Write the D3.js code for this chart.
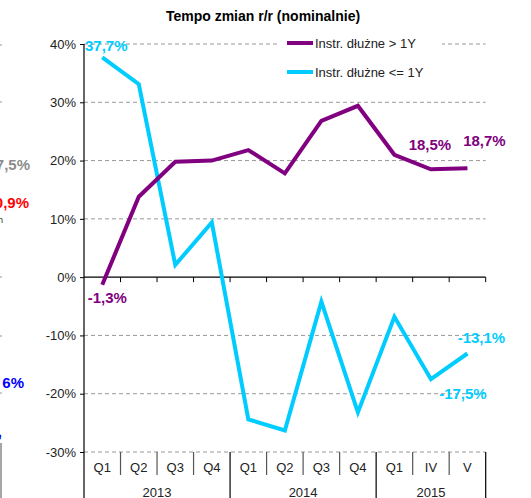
<!DOCTYPE html>
<html>
<head>
<meta charset="utf-8">
<script src="https://cdn.jsdelivr.net/npm/d3@7"></script>
<style>
  body { margin: 0; background: #fff; }
  svg { font-family: "Liberation Sans", Arial, sans-serif; }
</style>
</head>
<body>
<svg id="chart" width="531" height="498"></svg>
<script>
// data
var categories = ["Q1", "Q2", "Q3", "Q4", "Q1", "Q2", "Q3", "Q4", "Q1", "IV", "V"];
var yearLabels = ["2013", "2014", "2015"];
var yearSpans = [4, 4, 3];
var longDebt = [-1.3, 13.8, 19.8, 20.0, 21.8, 17.8, 26.8, 29.4, 21.0, 18.5, 18.7];
var shortDebt = [37.7, 33.1, 2.1, 9.4, -24.4, -26.3, -4.2, -23.2, -6.8, -17.5, -13.1];
var yTicks = [-30, -20, -10, 0, 10, 20, 30, 40];
var seriesNames = ["Instr. dłużne > 1Y", "Instr. dłużne <= 1Y"];

var purple = "#800080", cyan = "#00CCFF";

var svg = d3.select("svg#chart"),
    width = +svg.attr("width"),
    height = +svg.attr("height");

var plotL = 84, plotR = 485.7, plotT = 44, plotB = 452;

var x = d3.scaleBand().domain(d3.range(categories.length)).range([plotL, plotR]);
var y = d3.scaleLinear().domain([-30, 40]).range([plotB, plotT]);

function fmt(v) { return v.toFixed(1).replace(".", ",") + "%"; }

// fragments of the neighbouring chart, cut by the left edge
var frag = svg.append("g");
[45, 102, 277, 336, 393].forEach(function (yy) {
  frag.append("line").attr("x1", 0).attr("x2", 2).attr("y1", yy).attr("y2", yy)
    .attr("stroke", "#999").attr("stroke-width", 1);
});
frag.append("line").attr("x1", 1).attr("x2", 1).attr("y1", 443).attr("y2", height)
  .attr("stroke", "#888").attr("stroke-width", 1.5);
frag.append("text").attr("x", 30).attr("y", 170).attr("text-anchor", "end")
  .attr("font-size", 15).attr("font-weight", "bold").attr("fill", "#8c8c8c").text("17,5%");
frag.append("text").attr("x", 29).attr("y", 208).attr("text-anchor", "end")
  .attr("font-size", 15).attr("font-weight", "bold").attr("fill", "#ff0000").text("0,9%");
frag.append("text").attr("x", 3).attr("y", 223).attr("text-anchor", "end")
  .attr("font-size", 9).attr("fill", "#333").text("h");
frag.append("text").attr("x", 24).attr("y", 388).attr("text-anchor", "end")
  .attr("font-size", 15).attr("font-weight", "bold").attr("fill", "#0000ff").text("6%");
frag.append("text").attr("x", 2).attr("y", 437).attr("text-anchor", "end")
  .attr("font-size", 15).attr("font-weight", "bold").attr("fill", "#0000ff").text(",");

// title
svg.append("text")
  .attr("x", 263).attr("y", 21)
  .attr("text-anchor", "middle")
  .attr("font-size", 14).attr("font-weight", "bold")
  .text("Tempo zmian r/r (nominalnie)");

// gridlines
svg.append("g").selectAll("line")
  .data(yTicks.filter(function (d) { return d !== 0; }))
  .enter().append("line")
  .attr("x1", plotL).attr("x2", plotR)
  .attr("y1", function (d) { return y(d); })
  .attr("y2", function (d) { return y(d); })
  .attr("stroke", "#999").attr("stroke-width", 1)
  .attr("stroke-dasharray", "4,3");

// y axis
var yAxis = svg.append("g")
  .attr("transform", "translate(" + plotL + ",0)")
  .call(d3.axisLeft(y).tickValues(yTicks).tickSize(4).tickSizeOuter(0)
        .tickFormat(function (d) { return d + "%"; }));
yAxis.select(".domain").remove();
yAxis.selectAll("text").attr("font-size", 13).attr("fill", "#222")
  .attr("font-family", "Liberation Sans, Arial, sans-serif").attr("dx", "-1");
yAxis.selectAll(".tick line").attr("stroke", "#000");
svg.append("line").attr("x1", plotL).attr("x2", plotL).attr("y1", plotT).attr("y2", height)
  .attr("stroke", "#000").attr("stroke-width", 1.2);

// zero line with small ticks
svg.append("line").attr("x1", plotL).attr("x2", plotR).attr("y1", y(0)).attr("y2", y(0))
  .attr("stroke", "#000").attr("stroke-width", 1.2);
svg.append("g").selectAll("line")
  .data(d3.range(1, categories.length + 1))
  .enter().append("line")
  .attr("x1", function (i) { return plotL + i * x.step(); })
  .attr("x2", function (i) { return plotL + i * x.step(); })
  .attr("y1", y(0)).attr("y2", y(0) + 5)
  .attr("stroke", "#000").attr("stroke-width", 1);

// category separators and labels
var yearBounds = [];
var acc = 0;
yearSpans.forEach(function (n) { acc += n; yearBounds.push(acc); });

svg.append("g").selectAll("line")
  .data(d3.range(1, categories.length + 1))
  .enter().append("line")
  .attr("x1", function (i) { return plotL + i * x.step(); })
  .attr("x2", function (i) { return plotL + i * x.step(); })
  .attr("y1", plotB)
  .attr("y2", function (i) { return yearBounds.indexOf(i) >= 0 ? height : plotB + 23; })
  .attr("stroke", function (i) { return yearBounds.indexOf(i) >= 0 ? "#000" : "#555"; })
  .attr("stroke-width", 1.2);

svg.append("g").selectAll("text")
  .data(categories)
  .enter().append("text")
  .attr("x", function (d, i) { return x(i) + x.bandwidth() / 2; })
  .attr("y", 472)
  .attr("text-anchor", "middle")
  .attr("font-size", 13).attr("fill", "#222")
  .text(function (d) { return d; });

var start = 0;
yearLabels.forEach(function (lab, k) {
  var x0 = x(start), x1 = x(start + yearSpans[k] - 1) + x.bandwidth();
  svg.append("text")
    .attr("x", (x0 + x1) / 2).attr("y", 497)
    .attr("text-anchor", "middle")
    .attr("font-size", 13).attr("fill", "#222")
    .text(lab);
  start += yearSpans[k];
});

// lines
var line = d3.line()
  .x(function (d, i) { return x(i) + x.bandwidth() / 2; })
  .y(function (d) { return y(d); });

svg.append("path").datum(shortDebt)
  .attr("d", line).attr("fill", "none")
  .attr("stroke", cyan).attr("stroke-width", 4).attr("stroke-linejoin", "miter");
svg.append("path").datum(longDebt)
  .attr("d", line).attr("fill", "none")
  .attr("stroke", purple).attr("stroke-width", 4).attr("stroke-linejoin", "miter");

// legend
var legend = svg.append("g");
legend.append("rect").attr("x", 279).attr("y", 34).attr("width", 163).attr("height", 50).attr("fill", "#fff");
[purple, cyan].forEach(function (c, k) {
  var ly = 43 + k * 29;
  legend.append("line").attr("x1", 287).attr("x2", 313).attr("y1", ly).attr("y2", ly)
    .attr("stroke", c).attr("stroke-width", 4);
  legend.append("text").attr("x", 315).attr("y", ly).attr("dy", "0.36em")
    .attr("font-size", 13).attr("fill", "#222").text(seriesNames[k]);
});

// value labels
var labels = [
  { s: shortDebt, i: 0, dx: 4, dy: -12, c: cyan },
  { s: longDebt, i: 0, dx: 5, dy: 13, c: purple },
  { s: longDebt, i: 9, dx: -1, dy: -25, c: purple },
  { s: longDebt, i: 10, dx: 17, dy: -28, c: purple },
  { s: shortDebt, i: 10, dx: 14, dy: -16, c: cyan },
  { s: shortDebt, i: 9, dx: 32, dy: 14, c: cyan }
];
svg.append("g").selectAll("text")
  .data(labels)
  .enter().append("text")
  .attr("x", function (d) { return x(d.i) + x.bandwidth() / 2 + d.dx; })
  .attr("y", function (d) { return y(d.s[d.i]) + d.dy; })
  .attr("dy", "0.36em")
  .attr("text-anchor", "middle")
  .attr("font-size", 15).attr("font-weight", "bold")
  .attr("fill", function (d) { return d.c; })
  .text(function (d) { return fmt(d.s[d.i]); });
</script>
</body>
</html>
